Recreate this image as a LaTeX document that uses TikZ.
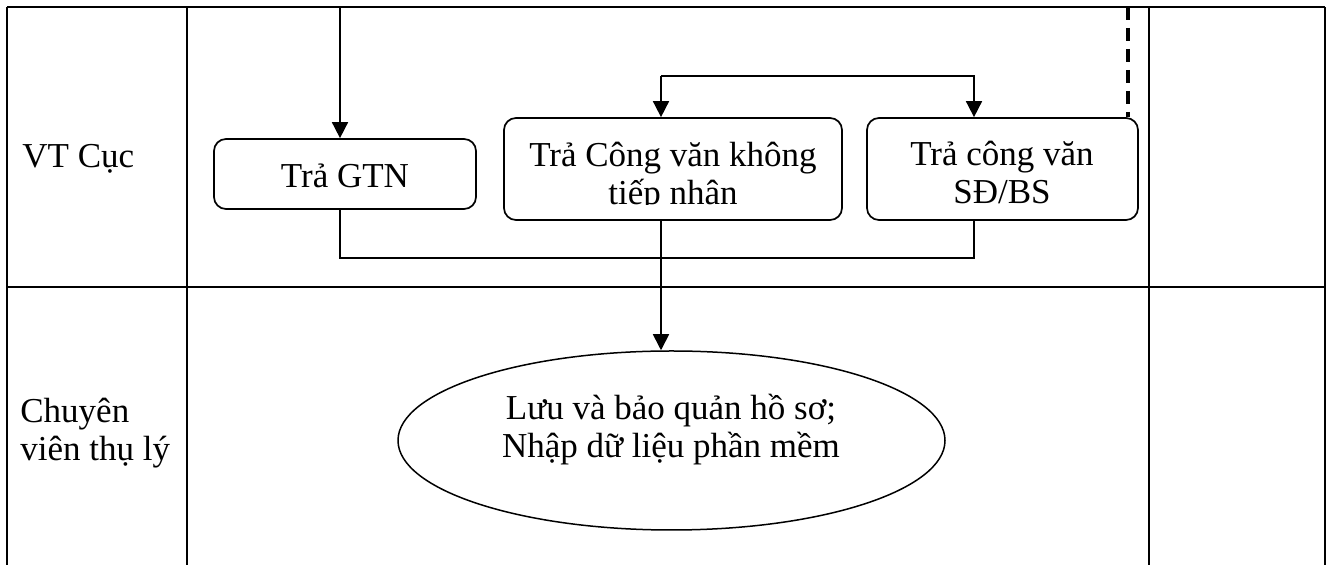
\documentclass[tikz,border=0pt]{standalone}
\usepackage{fontspec}
\setmainfont{Liberation Serif}
\usetikzlibrary{arrows.meta,shapes.geometric}
\begin{document}
\begin{tikzpicture}[x=0.5pt,y=-0.5pt,
  lane/.style={line width=1.3pt},
  box/.style={draw,line width=0.85pt,rounded corners=6pt,inner sep=0pt},
  conn/.style={line width=0.85pt},
  arr/.style={conn,-{Triangle[length=8pt,width=8pt]}},
  txt/.style={font=\fontsize{17.5pt}{19pt}\selectfont,inner sep=0pt,align=center},
  lbl/.style={font=\fontsize{17.5pt}{19pt}\selectfont,inner sep=0pt,align=left},
]
\useasboundingbox (0,0) rectangle (1327,565);
% table
\draw[lane] (7,7) -- (1325,7);
\draw[lane] (7,287) -- (1325,287);
\draw[lane] (7,7) -- (7,565);
\draw[lane] (187,7) -- (187,565);
\draw[lane] (1149,7) -- (1149,565);
\draw[lane] (1325,7) -- (1325,565);
% lane labels
\node[lbl,anchor=base west] (l1) at (22,168) {VT Cục};
\node[lbl,anchor=west] (l2) at (20,433) {Chuyên\\viên thụ lý};
% boxes
\node[box,minimum width=131pt,minimum height=35pt] (b1) at (345,174) {};
\node[txt] (t1) at (345,176) {Trả GTN};
\node[box,minimum width=169pt,minimum height=51pt] (b2) at (673,169) {};
\begin{scope}
  \clip (504,118) rectangle (842,205);
  \node[txt] (t2) at (673,177.5) {Trả Công văn không\\tiếp nhận};
\end{scope}
\node[box,minimum width=135.5pt,minimum height=51pt] (b3) at (1002.5,169) {};
\node[txt] (t3) at (1002,173) {Trả công văn\\SĐ/BS};
% ellipse
\node[draw,ellipse,line width=0.75pt,minimum width=273.5pt,minimum height=89.5pt,inner sep=0pt] (e) at (671.5,440.5) {};
\node[txt] (te) at (671,430) {Lưu và bảo quản hồ sơ;\\Nhập dữ liệu phần mềm};
% coordinates
\coordinate (xa) at (340,7);
\coordinate (x1) at (661,76);
\coordinate (x3) at (974,76);
\coordinate (yb) at (340,258);
\coordinate (xd) at (1128,7);
% connectors
\draw[arr] (xa) -- (b1.north -| xa);
\draw[arr] (x1) -- (b2.north -| x1);
\draw[arr] (x1) -- (x3) -- (b3.north -| x3);
\draw[conn] (b1.south -| xa) -- (yb) -- (yb -| x3) -- (b3.south -| x3);
\draw[arr] (b2.south -| x1) -- (e.north -| x1);
\draw[line width=2pt,dash pattern=on 6.5pt off 4pt] (xd) -- (b3.north -| xd);
\end{tikzpicture}
\end{document}
